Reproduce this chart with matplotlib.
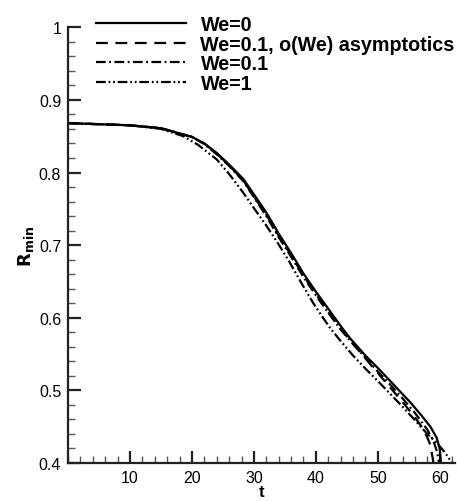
import numpy as np
import matplotlib
matplotlib.use("Agg")
import matplotlib.pyplot as plt
from matplotlib.ticker import MultipleLocator

plt.rcParams['font.family'] = ['Liberation Sans', 'DejaVu Sans']
plt.rcParams['lines.scale_dashes'] = False

# данные
t_we0 = [0, 10, 15, 20, 22, 24, 26, 28.3, 30, 32, 34, 36.3, 38, 40, 41.7, 43.9, 45.5,
         48, 50, 52, 55.2, 57, 58.5, 59.5, 60.0, 60.2]
r_we0 = [0.868, 0.865, 0.861, 0.849, 0.840, 0.827, 0.811, 0.791, 0.770, 0.745, 0.716,
         0.685, 0.661, 0.636, 0.616, 0.590, 0.572, 0.548, 0.531, 0.513, 0.484, 0.466,
         0.450, 0.435, 0.420, 0.400]

t_asym = [0, 10, 15, 20, 22, 24, 26, 28.3, 30, 32, 34, 36.3, 38, 40, 42, 44, 46, 48,
          50, 52, 54, 56, 57.5, 58.5, 59.0]
r_asym = [0.868, 0.865, 0.861, 0.849, 0.840, 0.826, 0.810, 0.789, 0.767, 0.742, 0.713,
          0.682, 0.658, 0.633, 0.608, 0.585, 0.564, 0.544, 0.524, 0.504, 0.484, 0.463,
          0.445, 0.425, 0.400]

t_we01 = [0, 10, 15, 20, 22, 24, 26, 28.3, 30, 32, 34, 36.3, 38, 40, 42, 44, 46, 48,
          50, 52, 54, 56, 58, 59, 59.6, 59.9]
r_we01 = [0.868, 0.865, 0.861, 0.849, 0.839, 0.825, 0.809, 0.788, 0.766, 0.740, 0.711,
          0.680, 0.656, 0.631, 0.607, 0.584, 0.564, 0.545, 0.526, 0.508, 0.489, 0.469,
          0.446, 0.430, 0.415, 0.400]

t_we1 = [0, 10, 15, 18.6, 21, 24, 26, 28.3, 30, 32, 34, 35.8, 38, 39.6, 41, 42.3, 43.9, 46,
         48, 50, 53.5, 56, 58, 59.5, 60.8, 61.6, 62.0]
r_we1 = [0.868, 0.865, 0.860, 0.850, 0.838, 0.818, 0.798, 0.772, 0.751, 0.727, 0.701,
         0.676, 0.643, 0.620, 0.602, 0.586, 0.569, 0.548, 0.530, 0.513, 0.482, 0.459,
         0.440, 0.428, 0.415, 0.405, 0.400]

fig = plt.figure(figsize=(4.57, 5.02), dpi=100)
ax = fig.add_axes([0.149, 0.0757, 0.847, 0.868])

ax.plot(t_we0, r_we0, color='black', lw=1.6, label='We=0')
ax.plot(t_asym, r_asym, color='black', lw=1.6, dashes=(8.5, 5.5), label='We=0.1, o(We) asymptotics')
ax.plot(t_we01, r_we01, color='black', lw=1.6, dashes=(7, 2.5, 1.3, 2.5), label='We=0.1')
ax.plot(t_we1, r_we1, color='black', lw=1.6, dashes=(7, 2, 1.3, 2, 1.3, 2), label='We=1')

ax.set_xlim(0, 62.5)
ax.set_ylim(0.4, 1.0)
ax.xaxis.set_minor_locator(MultipleLocator(2))
ax.yaxis.set_minor_locator(MultipleLocator(0.02))
ax.set_xticks([10, 20, 30, 40, 50, 60])
ax.set_yticks([0.4, 0.5, 0.6, 0.7, 0.8, 0.9, 1.0])
ax.set_yticklabels(['0.4', '0.5', '0.6', '0.7', '0.8', '0.9', '1'])

for s in ['top', 'right']:
    ax.spines[s].set_visible(False)
for s in ['left', 'bottom']:
    ax.spines[s].set_linewidth(1.6)
    ax.spines[s].set_color('#222222')

ax.tick_params(which='major', direction='in', length=9, width=1.6, labelsize=11.5, pad=5, color='#222222')
ax.tick_params(which='minor', direction='in', length=5, width=1.0, color='#555555')

ax.set_xlabel('t', fontsize=12, fontweight='bold', labelpad=-1)
ax.set_ylabel(r'$\mathbf{R_{min}}$', fontsize=13, labelpad=2)

ax.legend(loc='upper left', bbox_to_anchor=(0.21, 0.968), bbox_transform=fig.transFigure,
          frameon=False, handlelength=4.55, handletextpad=0.75, labelspacing=0.03,
          prop={'size': 14.2, 'weight': 'bold'}, borderaxespad=0.0, borderpad=0.0)

fig.savefig('out.png', dpi=100)
